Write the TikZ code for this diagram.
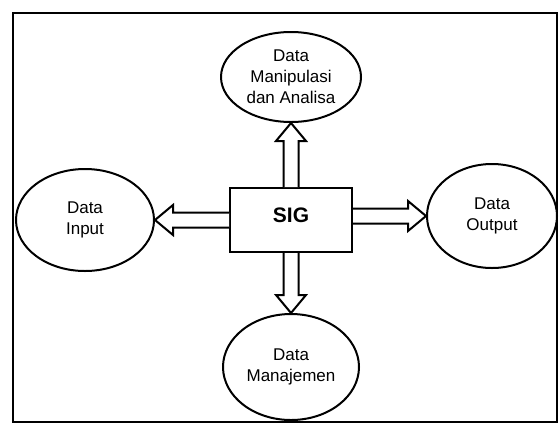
\documentclass[tikz,border=0pt]{standalone}
\usepackage{fontspec}
\setmainfont{Liberation Sans}
\usepackage{tikz}
\usetikzlibrary{shapes.geometric,calc}

\begin{document}
\begin{tikzpicture}[
    x=1pt, y=-1pt,
    box/.style={rectangle, draw, line width=2pt, minimum width=122pt, minimum height=64pt, inner sep=0pt, text depth=10pt, font=\fontsize{21}{24}\selectfont\bfseries},
    data/.style={ellipse, draw, line width=2pt, inner sep=0pt, align=center, font=\fontsize{17}{21}\selectfont},
    blockarrow/.style={draw, line width=2pt, fill=white, line join=miter}
]
\useasboundingbox (0,0) rectangle (559,424);

% Frame
\draw[line width=2pt] (13,13) rectangle (557,422);

% Centre
\node[box] (sig) at (291,220) {SIG};

% Data around it
\node[data, minimum width=140pt, minimum height=90pt] (manip) at (291,77) {Data\\Manipulasi\\dan Analisa};
\node[data, minimum width=138pt, minimum height=102pt] (input) at (85,220) {Data\\Input};
\node[data, minimum width=130pt, minimum height=104pt] (output) at (492,216) {Data\\Output};
\node[data, minimum width=136pt, minimum height=106pt] (mgmt) at (291,367) {Data\\Manajemen};

% Hollow arrows
\foreach \from/\to in {sig.north/manip.south, sig.south/mgmt.north, sig.west/input.east, {sig.east |- output.west}/output.west}
  \draw[blockarrow] ($(\from)!7.5pt!90:(\to)$) -- ($(\to)!18pt!(\from)!7.5pt!90:(\to)$)
    -- ($(\to)!18pt!(\from)!15pt!90:(\to)$) -- (\to)
    -- ($(\to)!18pt!(\from)!15pt!-90:(\to)$) -- ($(\to)!18pt!(\from)!7.5pt!-90:(\to)$)
    -- ($(\from)!7.5pt!-90:(\to)$);

\end{tikzpicture}
\end{document}
